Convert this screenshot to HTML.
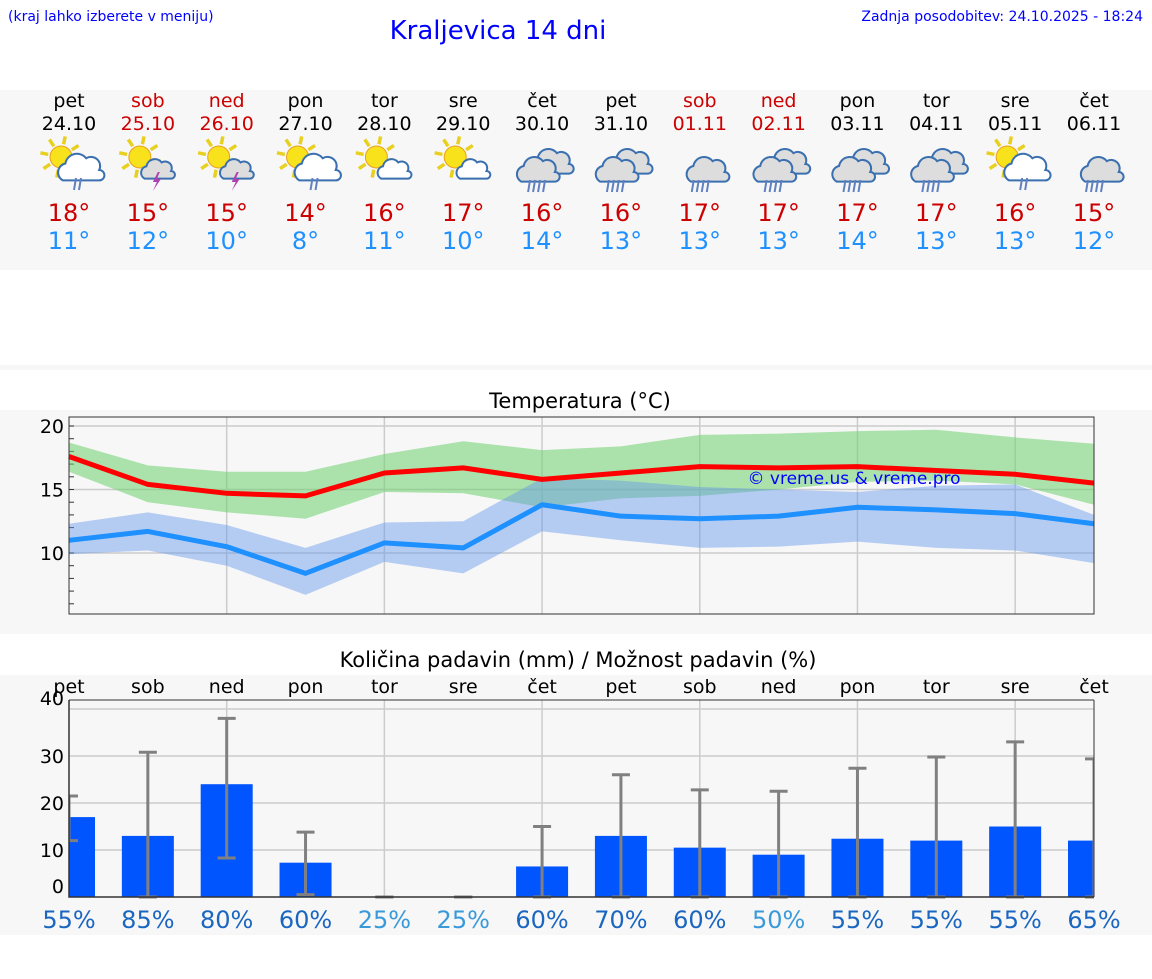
<!DOCTYPE html>
<html><head><meta charset="utf-8"><style>
body{margin:0;background:#fff;width:1152px;height:975px;overflow:hidden;font-family:"DejaVu Sans","Liberation Sans",sans-serif}
svg text{font-family:"DejaVu Sans","Liberation Sans",sans-serif}
</style></head><body>
<svg id="s" width="1152" height="975" xmlns="http://www.w3.org/2000/svg">
<text x="8" y="21" font-size="14" fill="#0000ff" font-family="Liberation Sans">(kraj lahko izberete v meniju)</text>
<text x="498" y="39" font-size="26" fill="#0000ff" text-anchor="middle" font-family="Liberation Sans">Kraljevica 14 dni</text>
<text x="1143" y="21" font-size="14" fill="#0000ff" text-anchor="end" font-family="Liberation Sans">Zadnja posodobitev: 24.10.2025 - 18:24</text>
<rect x="0" y="90" width="1152" height="180" fill="#f7f7f7"/>
<rect x="0" y="365" width="1152" height="5" fill="#f7f7f7"/>
<rect x="0" y="410" width="1152" height="224" fill="#f7f7f7"/>
<text x="580" y="408" font-size="21" text-anchor="middle" fill="#000" font-family="Liberation Sans">Temperatura (°C)</text>
<rect x="0" y="675" width="1152" height="260" fill="#f7f7f7"/>
<text x="578" y="667" font-size="21" text-anchor="middle" fill="#000" font-family="Liberation Sans">Količina padavin (mm) / Možnost padavin (%)</text>
<g id="hdr"></g><g id="temp"></g><g id="prec"></g>
</svg>
<script>
const days=["pet","sob","ned","pon","tor","sre","čet","pet","sob","ned","pon","tor","sre","čet"];
const dates=["24.10","25.10","26.10","27.10","28.10","29.10","30.10","31.10","01.11","02.11","03.11","04.11","05.11","06.11"];
const weekend=[0,1,1,0,0,0,0,0,1,1,0,0,0,0];
const icons=["sr","st","st","sr","sc","sc","cr","cr","gr","cr","cr","cr","sr","gr"];
const tmaxDay=[18,15,15,14,16,17,16,16,17,17,17,17,16,15];
const tminDay=[11,12,10,8,11,10,14,13,13,13,14,13,13,12];
const tmax=[17.6,15.4,14.7,14.5,16.3,16.7,15.8,16.3,16.8,16.7,16.8,16.5,16.2,15.5];
const tmaxHi=[18.7,16.9,16.4,16.4,17.8,18.8,18.1,18.4,19.3,19.4,19.6,19.7,19.1,18.6];
const tmaxLo=[16.4,14.0,13.2,12.7,14.8,14.7,13.6,14.3,14.5,15.0,15.6,15.7,15.4,13.8];
const tmin=[11.0,11.7,10.5,8.4,10.8,10.4,13.8,12.9,12.7,12.9,13.6,13.4,13.1,12.3];
const tminHi=[12.3,13.2,12.2,10.4,12.4,12.5,15.9,15.7,15.2,15.0,14.8,15.3,15.4,13.0];
const tminLo=[9.9,10.2,9.0,6.7,9.3,8.4,11.7,11.0,10.4,10.5,10.9,10.4,10.2,9.2];
const rain=[17,13,24,7.3,0,0,6.5,13,10.5,9,12.4,12,15,12];
const rainLo=[12,0,8.3,0.5,0,0,0,0,0,0,0,0,0,0];
const rainHi=[21.5,30.8,38,13.8,0,0,15,26,22.8,22.5,27.4,29.8,33,29.4];
const prob=[55,85,80,60,25,25,60,70,60,50,55,55,55,65];
const NS="http://www.w3.org/2000/svg";
function mk(p,t,a,txt){const e=document.createElementNS(NS,t);for(const k in a)e.setAttribute(k,a[k]);if(txt!==undefined)e.textContent=txt;p.appendChild(e);return e;}
const X0=69,X1=1094;
const xd=i=>X0+(X1-X0)*i/13;
const hdr=document.getElementById('hdr');
function sun(g,cx,cy){for(let k=0;k<8;k++){const a=k*Math.PI/4+0.2;mk(g,'line',{x1:cx+Math.cos(a)*13,y1:cy+Math.sin(a)*13,x2:cx+Math.cos(a)*21,y2:cy+Math.sin(a)*21,stroke:'#e8d020','stroke-width':3.5});}mk(g,'circle',{cx,cy,r:11,fill:'#f7e21c',stroke:'#e8a020','stroke-width':1});}
function cloud(g,cx,cy,s,fill){const p=`M${cx-14*s},${cy+8*s} a${7*s},${7*s} 0 0 1 ${2*s},${-13*s} a${9*s},${9*s} 0 0 1 ${16*s},${-4*s} a${7*s},${7*s} 0 0 1 ${10*s},${9*s} a${4*s},${4*s} 0 0 1 ${0},${8*s} z`;mk(g,'path',{d:p,fill,stroke:'#3a6fb0','stroke-width':2});}
function drops(g,cx,cy,n){for(let k=0;k<n;k++)mk(g,'line',{x1:cx+k*5-n*2.5+2,y1:cy,x2:cx+k*5-n*2.5,y2:cy+12,stroke:'#6080c0','stroke-width':2});}
for(let i=0;i<14;i++){
  const x=xd(i);const col=weekend[i]?'#cc0000':'#000';
  const g=mk(hdr,'g',{});
  
  
  mk(g,'text',{x,y:107,'font-size':19,'text-anchor':'middle',fill:col},days[i]);
  mk(g,'text',{x,y:130,'font-size':19,'text-anchor':'middle',fill:col},dates[i]);
  const ic=mk(g,'g',{});
  
  
  const t=icons[i];
  if(t[0]=='s'){sun(ic,x-8,157);}
  if(t=='sr'){cloud(ic,x+12,170,1.3,'#fff');drops(ic,x+10,178,2);}
  if(t=='st'||t=='sc'){cloud(ic,x+10,171,0.95,t=='st'?'#ddd':'#fff');if(t=='st')mk(ic,'path',{d:`M${x+10},${172} l-5,10 h4 l-4,9 l8,-12 h-4 l3,-7z`,fill:'#b040b0'});}
  if(t=='gr'){cloud(ic,x+8,172,1.2,'#ddd');drops(ic,x+2,180,4);}
  if(t=='cr'){cloud(ic,x+10,164,1.2,'#ddd');cloud(ic,x-4,172,1.2,'#ddd');drops(ic,x-4,180,4);}
  mk(g,'text',{x,y:221,'font-size':24,'text-anchor':'middle',fill:'#cc0000'},tmaxDay[i]+'°');
  mk(g,'text',{x,y:249,'font-size':24,'text-anchor':'middle',fill:'#1e90ff'},tminDay[i]+'°');
}
const tg=document.getElementById('temp');
const TY0=417,TY1=614;
const ty=v=>553-(v-10)*12.7;
mk(tg,'rect',{x:X0,y:TY0,width:X1-X0,height:TY1-TY0,fill:'#f7f7f7'});
[10,15,20].forEach(v=>{mk(tg,'line',{x1:X0,x2:X1,y1:ty(v),y2:ty(v),stroke:'#ccc','stroke-width':1.5});mk(tg,'text',{x:64,y:ty(v)+7,'font-size':19,'text-anchor':'end',fill:'#000'},v);});
for(let v=6;v<=20;v++){if(ty(v)<TY1&&ty(v)>TY0)mk(tg,'line',{x1:X0,x2:X0+5,y1:ty(v),y2:ty(v),stroke:'#333'});}
[2,4,6,8,10,12].forEach(i=>mk(tg,'line',{x1:xd(i),x2:xd(i),y1:TY0,y2:TY1,stroke:'#ccc','stroke-width':1.5}));
function band(hi,lo,fill,name){let d='M';hi.forEach((v,i)=>d+=xd(i)+','+ty(v)+' L');for(let i=lo.length-1;i>=0;i--)d+=xd(i)+','+ty(lo[i])+(i?' L':' Z');const p=mk(tg,'path',{d,fill});}
function line(v,stroke,name){const p=mk(tg,'polyline',{points:v.map((a,i)=>xd(i)+','+ty(a)).join(' '),fill:'none',stroke,'stroke-width':5,'stroke-linejoin':'round'});}
band(tmaxHi,tmaxLo,'rgba(110,210,110,0.55)','max-temp-range');
band(tminHi,tminLo,'rgba(100,150,235,0.45)','min-temp-range');
line(tmax,'#ff0000','max-temp-line');
line(tmin,'#1e90ff','min-temp-line');
mk(tg,'rect',{x:X0,y:TY0,width:X1-X0,height:TY1-TY0,fill:'none',stroke:'#333'});
const wm=mk(tg,'text',{x:854,y:484,'font-size':17,'text-anchor':'middle',fill:'#0000ff'},'© vreme.us & vreme.pro');


const pg=document.getElementById('prec');
const PY0=700,PY1=897;
const py=v=>897-v*4.7;
[10,20,30,40].forEach(v=>mk(pg,'line',{x1:X0,x2:X1,y1:py(v),y2:py(v),stroke:'#ccc','stroke-width':1.5}));
[2,4,6,8,10,12].forEach(i=>mk(pg,'line',{x1:xd(i),x2:xd(i),y1:PY0,y2:PY1,stroke:'#ccc','stroke-width':1.5}));
const ptick=[0,10,20,30,40];
ptick.forEach(v=>{let y=py(v)+7;if(v==0)y=893;if(v==40)y=705;mk(pg,'text',{x:64,y,'font-size':19,'text-anchor':'end',fill:'#000'},v);});
const clip=mk(pg,'clipPath',{id:'pc'});mk(clip,'rect',{x:X0,y:PY0,width:X1-X0,height:PY1-PY0+2});
const inner=mk(pg,'g',{'clip-path':'url(#pc)'});
for(let i=0;i<14;i++){
  const x=xd(i);
  mk(pg,'text',{x,y:693,'font-size':19,'text-anchor':'middle',fill:'#000'},days[i]);
  const b=mk(inner,'rect',{x:x-26,y:py(rain[i]),width:52,height:py(0)-py(rain[i]),fill:'#0055ff'});
  
  
  const e=mk(inner,'g',{stroke:'#808080','stroke-width':3});
  
  
  mk(e,'line',{x1:x,x2:x,y1:py(rainHi[i]),y2:py(rainLo[i])});
  mk(e,'line',{x1:x-9,x2:x+9,y1:py(rainHi[i]),y2:py(rainHi[i])});
  mk(e,'line',{x1:x-9,x2:x+9,y1:py(rainLo[i]),y2:py(rainLo[i])});
  const pc=prob[i];
  const t=mk(pg,'text',{x,y:928,'font-size':24,'text-anchor':'middle',fill:pc<=50?'#3a9ad9':'#1a66c0'},pc+'%');
  
  
}
mk(pg,'polyline',{points:`${X0},${PY0} ${X0},${PY1} ${X1},${PY1}`,fill:'none',stroke:'#333','stroke-width':1.5});
mk(pg,'line',{x1:X0,x2:X1,y1:PY0,y2:PY0,stroke:'#333'});
mk(pg,'line',{x1:X1,x2:X1,y1:PY0,y2:PY1,stroke:'#333'});
</script>
</body></html>
